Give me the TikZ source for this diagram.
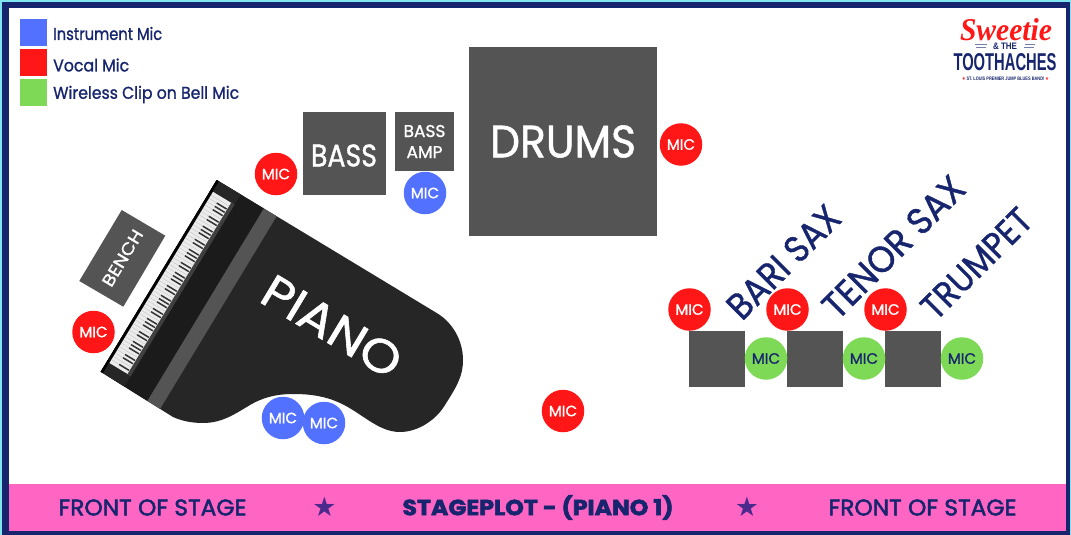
\documentclass[tikz,border=0pt]{standalone}
\usepackage{fontspec}
\usepackage{graphicx}
\setmainfont{Poppins}
\newfontfamily\popm[FakeBold=1.2]{Poppins}
\newfontfamily\popf[FakeBold=2.2]{Poppins}
\newfontfamily\popx[BoldFont={Poppins Bold},BoldFeatures={FakeBold=2.5}]{Poppins}
\newfontfamily\djv{DejaVu Sans}
\newfontfamily\serifit{Liberation Serif}
\newfontfamily\condf{Liberation Sans}
\definecolor{micblue}{HTML}{5271FF}
\definecolor{micred}{HTML}{FF1616}
\definecolor{micgreen}{HTML}{7ED957}
\definecolor{stagepink}{HTML}{FF66C4}
\definecolor{navy}{HTML}{17256E}
\definecolor{slab}{HTML}{545454}
\definecolor{pbody}{HTML}{262626}
\definecolor{pblack}{HTML}{1B1B1B}
\definecolor{edgecyan}{HTML}{7FE6F0}
\definecolor{starc}{HTML}{4A2A8C}
\newcommand{\fitbox}[3]{\resizebox{#1pt}{#2pt}{#3}}
\newcommand{\qd}[4]{(#1,#2) -- (#3,#2) -- (#3,#4) -- (#1,#4) -- cycle}
\tikzset{
  mic/.style={circle,minimum size=42.5pt,inner sep=0pt,font=\popm\fontsize{15}{16}\selectfont,text=white},
  micb/.style={mic,fill=micblue},
  micr/.style={mic,fill=micred},
  micg/.style={mic,fill=micgreen,text=navy},
  slabbox/.style={fill=slab,inner sep=0pt,text=white,font=\popm},
  legendsw/.style={inner sep=0pt,minimum size=26.7pt},
  legendtx/.style={anchor=west,inner sep=0pt,text=navy,font=\popm\fontsize{14}{15}\selectfont},
  inst/.style={inner sep=0pt,text=navy,rotate=45,font=\popm},
  foot/.style={inner sep=0pt,text=navy,font=\popf},
  footstar/.style={inner sep=0pt,text=starc,font=\djv\fontsize{27}{28}\selectfont},
}
\begin{document}
\begin{tikzpicture}[x=1pt,y=-1pt]
\useasboundingbox (0,0) rectangle (1071,535);
\fill[edgecyan] (0,0) rectangle (1071,535);
\fill[navy] (2,2.5) rectangle (1070,535);
\fill[white] (9,8) rectangle (1066,484);
\fill[stagepink] (9,484) rectangle (1066,530.5);

% legend
\node[legendsw,fill=micblue] (l1) at (33.3,32.7) {};
\node[legendsw,fill=micred] (l2) at (33.3,62.7) {};
\node[legendsw,fill=micgreen] (l3) at (33.3,92.2) {};
\node[legendtx] (t1) at (53,33.5) {\fitbox{109}{13}{Instrument Mic}};
\node[legendtx] (t2) at (53,65) {\fitbox{76}{13}{Vocal Mic}};
\node[legendtx] (t3) at (53,94.5) {\fitbox{186}{13}{Wireless Clip on Bell Mic}};

% logo
\node[inner sep=0pt,text=micred] (logo1) at (1006,30) {\fitbox{92}{22}{\serifit\bfseries\itshape Sweetie}};
\node[inner sep=0pt,text=navy] (logo2) at (1005,46) {\fitbox{24}{6.5}{\condf\bfseries \& THE}};
\node[inner sep=0pt,text=navy] (logo3) at (1005,62) {\fitbox{103}{17}{\condf\bfseries TOOTHACHES}};
\node[inner sep=0pt,text=navy] (logo4) at (1005.5,78.3) {\fitbox{87}{3.6}{\condf\bfseries\textcolor{micred}{\djv★} ST. LOUIS PREMIER JUMP BLUES BAND! \textcolor{micred}{\djv★}}};
\draw[navy!60,line width=.6pt] (975,44.5) -- (987,44.5) (976,47) -- (986,47) (1025,44.5) -- (1035,44.5) (1024,47) -- (1034,47);

% piano
\def\pianopath{(216.7,180) -- (436.7,313) .. controls (452,322) and (463,340) .. (463,360)
  .. controls (463,376) and (457,386) .. (445,405) .. controls (436,420) and (418,432) .. (400,432)
  .. controls (378,432) and (362,413) .. (340,403) .. controls (325,396) and (310,394) .. (293,394)
  .. controls (275,394) and (262,398) .. (250,405) .. controls (235,414) and (222,423) .. (203,423)
  .. controls (192,423) and (182,421) .. (173,417) -- (100.7,371.7) -- cycle}
\fill[pbody] \pianopath;
\begin{scope}
\clip \pianopath;
\begin{scope}[shift={(216.7,180)},x={(0.857pt,-0.518pt)},y={(-0.518pt,-0.856pt)}]
  \fill[pblack] \qd{0}{-2}{55}{228};
  \fill[slab] \qd{55}{-2}{70}{228};
  \fill[pbody] \qd{0}{-2}{28}{11.5};
  \fill[pbody] \qd{0}{212.5}{28}{228};
  \fill[black] \qd{0}{-2}{2.5}{228};
  \fill[slab!75!black] \qd{24}{11.5}{28}{212.5};
  \fill[white!92!black] \qd{3}{12}{24}{212};
  \foreach \i in {1,...,51} {
    \draw[black!28,line width=.25pt] (3,{212-\i*3.846}) -- (24,{212-\i*3.846});
  }
  \foreach \i in {1,3,4,6,7,8,10,11,13,14,15,17,18,20,21,22,24,25,27,28,29,31,32,34,35,36,38,39,41,42,43,45,46,48,49,50} {
    \draw[black!80,line width=1.5pt] (12,{212-\i*3.846}) -- (23.5,{212-\i*3.846});
  }
\end{scope}
\end{scope}
\node[inner sep=0pt,text=white,rotate=-31,font=\popm] (piano) at (332,326.5) {\fitbox{154}{33}{PIANO}};

% bench
\fill[slab] (121.7,210) -- (165.3,235.7) -- (123.3,306.7) -- (79.3,281) -- cycle;
\node[inner sep=0pt,text=white,rotate=59,font=\popm] (bench) at (122.5,258) {\fitbox{63}{12}{BENCH}};

% bass, amp, drums
\node[slabbox,minimum width=83pt,minimum height=83pt] (bass) at (344.5,153.5) {};
\node[inner sep=0pt,text=white,font=\popm] (basslab) at (344,155.5) {\fitbox{66}{22}{BASS}};
\node[slabbox,minimum width=59pt,minimum height=59pt,align=center,font=\popm\fontsize{17}{21}\selectfont] (amp) at (424.5,141.5) {BASS\\AMP};
\node[slabbox,minimum width=188pt,minimum height=189pt] (drums) at (563,141.5) {\fitbox{146}{32}{DRUMS}};

% horn stands
\node[slabbox,minimum width=55.7pt,minimum height=55.7pt] (s1) at (717.2,358.8) {};
\node[slabbox,minimum width=55.7pt,minimum height=55.7pt] (s2) at (815.2,358.8) {};
\node[slabbox,minimum width=55.7pt,minimum height=55.7pt] (s3) at (913.2,358.8) {};
\node[inst] (bari) at (783.5,262) {\fitbox{143}{26}{BARI SAX}};
\node[inst] (tenor) at (893.5,247) {\fitbox{184}{26}{TENOR SAX}};
\node[inst] (trump) at (976.5,263.5) {\fitbox{140}{25}{TRUMPET}};

% mics
\node[micr] (m1) at (276,174) {MIC};
\node[micb] (m2) at (425,193) {MIC};
\node[micr] (m3) at (681,144.5) {MIC};
\node[micr] (m4) at (93.5,332) {MIC};
\node[micb] (m5) at (283,418) {MIC};
\node[micb] (m6) at (324,423) {MIC};
\node[micr] (m7) at (563,411) {MIC};
\node[micr] (m8) at (689.5,309.5) {MIC};
\node[micr] (m9) at (787.5,309.5) {MIC};
\node[micr] (m10) at (885.5,309.5) {MIC};
\node[micg] (m11) at (766,358.5) {MIC};
\node[micg] (m12) at (864,358.5) {MIC};
\node[micg] (m13) at (962,358.5) {MIC};

% footer
\node[foot] (f1) at (152.5,507.5) {\fitbox{188}{16}{FRONT OF STAGE}};
\node[footstar] (st1) at (324.5,506.5) {★};
\node[foot] (f2) at (538,507.5) {\fitbox{271}{20}{\popx\bfseries STAGEPLOT - (PIANO 1)}};
\node[footstar] (st2) at (747,506.5) {★};
\node[foot] (f3) at (922.5,507.5) {\fitbox{188}{16}{FRONT OF STAGE}};
\end{tikzpicture}
\end{document}
